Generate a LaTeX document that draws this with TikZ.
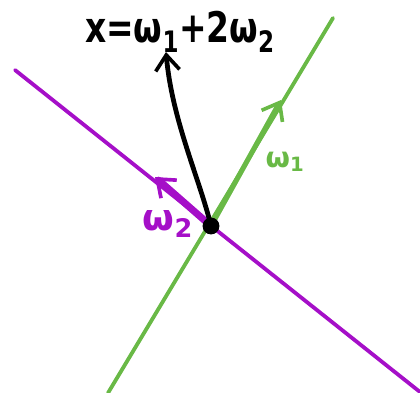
\documentclass[tikz,border=0pt]{standalone}
\usepackage{fontspec}
\usepackage{graphicx}
\setmainfont{DejaVu Sans}
\definecolor{vecgreen}{RGB}{105,185,70}
\definecolor{vecpurple}{RGB}{165,15,200}
\usetikzlibrary{arrows.meta}

\begin{document}
\begin{tikzpicture}[x=0.025cm, y=-0.025cm, font=\bfseries,
  axis/.style={line width=2.7pt, line cap=round},
  vecarrow/.style={line width=3.2pt, line cap=round,
    -{Straight Barb[length=11pt, width=17pt, line width=2.6pt]}}]

  \useasboundingbox (0,0) rectangle (420,393);

  %% Basis lines
  \coordinate (g1) at (108,393);
  \coordinate (g2) at (333,18);
  \coordinate (p1) at (15,70);
  \coordinate (p2) at (420,392);
  \draw[axis, vecgreen] (g1) -- (g2);
  \draw[axis, vecpurple] (p1) -- (p2);

  %% Origin
  \coordinate (o) at (211,226);

  %% Basis vectors
  \coordinate (w1tip) at (281,100);
  \coordinate (w2tip) at (155,177);
  \draw[vecarrow, vecgreen, line width=3.6pt] (o) -- (w1tip);
  \draw[vecarrow, vecpurple, line width=5pt] (o) -- (w2tip);

  %% Labels
  \node[vecgreen, font=\fontsize{20}{20}\selectfont\bfseries] (w1) at (285,162) {ω\textsubscript{1}};
  \node[vecpurple, font=\fontsize{26}{26}\selectfont\bfseries] (w2) at (168,224) {ω\textsubscript{2}};
  \node[font=\fontsize{30}{30}\selectfont\bfseries] (x) at (180,32)
    {\scalebox{0.78}[1]{x=ω\textsubscript{1}+2ω\textsubscript{2}}};

  %% Combination x
  \coordinate (xtip) at (166,52);
  \draw[vecarrow, black, line width=3.4pt] (o) .. controls (200,180) and (172,120) .. (xtip);

  \node[circle, fill=black, inner sep=0pt, minimum size=12pt] (dot) at (o) {};

\end{tikzpicture}
\end{document}
